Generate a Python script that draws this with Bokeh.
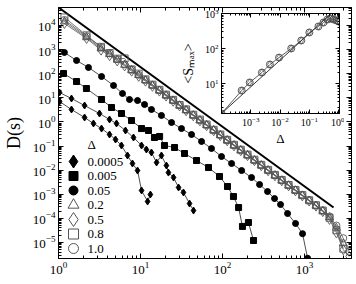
from bokeh.plotting import figure
from bokeh.layouts import column
from bokeh.models import Range1d, LinearScale, FixedTicker, LogAxis, CustomJSTickFormatter
from bokeh.embed import file_html
from bokeh.resources import INLINE
from bokeh.core.properties import value

SERIF = "Liberation Serif"

# ---- main panel: avalanche size distribution D(s) ----
# open-symbol runs share the same logarithmic bins
s_open = [1.18, 2.2, 3.3, 4.2, 5.2, 6.4, 7.8, 9.5, 11.5, 14, 17, 20.5, 25, 30, 36,
          44, 53, 64, 78, 94, 114, 138, 167, 202, 245, 297, 360, 436, 528, 640,
          775, 940, 1140, 1380, 1670, 2020, 2450, 2970, 3500]

d_100 = [17000, 3600, 1250, 700, 400, 245, 150, 90, 56, 34, 21, 13.2, 8.0, 5.1, 3.2,
         1.95, 1.2, 0.76, 0.46, 0.29, 0.178, 0.11, 0.069, 0.043, 0.026, 0.0162, 0.0100,
         0.0062, 0.0038, 0.0024, 0.00148, 0.00091, 0.00056, 0.00034, 0.00021, 0.00012,
         5.0e-5, 1.5e-5, 4.2e-6]
d_080 = [21500, 3900, 1300, 720, 420, 430, 150, 100, 58, 35, 21.5, 13.5, 8.2, 5.0, 3.3,
         1.98, 1.25, 0.78, 0.47, 0.30, 0.18, 0.112, 0.070, 0.044, 0.027, 0.0165, 0.0102,
         0.0063, 0.0039, 0.0024, 0.0015, 0.00092, 0.00056, 0.00035, 0.00021, 0.000105,
         3.2e-5, 5.5e-6]
d_050 = [12100, 2900, 950, 560, 340, 210, 128, 78, 49, 30, 19, 11.8, 7.2, 4.6, 2.9,
         1.78, 1.1, 0.70, 0.43, 0.27, 0.165, 0.102, 0.064, 0.040, 0.0245, 0.0152, 0.0094,
         0.0058, 0.0036, 0.00223, 0.00138, 0.00085, 0.00052, 0.00032, 0.00019, 9e-5,
         2.5e-5, 5e-6, 2.6e-6]
d_020 = [14500, 3200, 1100, 640, 380, 230, 140, 86, 53, 32.5, 20, 12.6, 7.7, 4.8, 3.05,
         1.87, 1.16, 0.73, 0.45, 0.28, 0.172, 0.106, 0.066, 0.041, 0.0253, 0.0157, 0.0097,
         0.006, 0.0037, 0.0023, 0.00143, 0.00088, 0.00054, 0.00033, 0.0002, 0.00011,
         4e-5, 9e-6]

s_005b = [1.18, 1.66, 2.32, 3.35, 4.69, 6.03, 7.34, 9.2, 11.2, 13.6, 18.0, 23.9, 31.6,
          41.9, 55.5, 73.4, 97.2, 129, 171, 226, 283, 354, 431, 510, 621, 777, 946, 1090]
d_005b = [760, 353, 181, 76.5, 32.4, 15.1, 8.5, 7.7, 5.27, 3.27, 1.85, 0.944, 0.53, 0.30,
          0.154, 0.0787, 0.0366, 0.0188, 0.0096, 0.00493, 0.00252, 0.00129, 0.00066,
          0.000374, 0.000158, 6.1e-5, 2.3e-5, 2.2e-6]

s_0005 = [1.15, 1.66, 2.19, 3.35, 4.43, 5.86, 7.77, 10.3, 12.5, 14.8, 17.1, 19.6, 26,
          34.4, 48.2, 67.5, 91.9, 115, 136, 157, 175, 207, 239]
d_0005 = [102, 47.4, 24.3, 8.5, 3.96, 2.23, 1.14, 0.53, 0.44, 0.225, 0.248, 0.105, 0.0867,
          0.0489, 0.025, 0.0128, 0.00542, 0.00209, 0.0008, 0.00028, 4.6e-5, 6.7e-5, 1.2e-5]

s_00005 = [1.03, 1.44, 2.08, 3.16, 4.19, 5.1, 6.56, 8.22, 10.3, 11.8, 13.6, 15.7, 18,
           20.7, 21.9, 25.3, 29.1, 33.4, 39.6, 44.3]
d_00005 = [16.6, 9.35, 4.79, 2.23, 1.26, 0.86, 0.44, 0.225, 0.105, 0.0716, 0.0537, 0.0207,
           0.0404, 0.0155, 0.0079, 0.00493, 0.0019, 0.00118, 0.00041, 0.00021]

s_00001 = [1.03, 1.44, 2.08, 2.67, 3.35, 4.19, 4.96, 5.86, 6.94, 7.98, 9.2, 10.3, 12.2, 13.2]
d_00001 = [7.0, 3.27, 1.52, 0.86, 0.53, 0.30, 0.186, 0.105, 0.0404, 0.0188, 0.0096,
           0.00143, 0.0005, 0.00097]

# reference power law
s_ref = [1.0, 2260]
d_ref = [56000, 2.8e-4]

delta_labels = ["0.0005", "0.005", "0.05", "0.2", "0.5", "0.8", "1.0"]

# ---- inset: mean largest avalanche vs. Delta ----
inset_delta = [1e-4, 4.9e-4, 9.2e-4, 2.4e-3, 4.5e-3, 9.2e-3, 0.024, 0.053, 0.1, 0.204,
               0.304, 0.417, 0.53, 0.67, 0.85, 1.0]
inset_smax = [1.39, 6.3, 10.7, 20.6, 34.9, 55, 100, 169, 287, 425, 553, 674, 720, 674,
              631, 590]
fit_delta = [1e-4, 0.85]
fit_smax = [1.39, 1380]


def decade_ticks(lo, hi):
    major = [10.0 ** k for k in range(lo, hi + 1)]
    minor = [m * 10.0 ** k for k in range(lo - 1, hi + 1) for m in range(2, 10)]
    return FixedTicker(ticks=major, minor_ticks=minor)


def style_axis(ax, font_size, labels=True, tick_in=5, minor_in=3):
    ax.major_tick_in = tick_in
    ax.major_tick_out = 0
    ax.minor_tick_in = minor_in
    ax.minor_tick_out = 0
    ax.axis_line_color = "black"
    ax.major_tick_line_color = "black"
    ax.minor_tick_line_color = "black"
    ax.major_label_text_font = SERIF
    ax.major_label_text_color = "black"
    ax.major_label_text_font_size = font_size
    ax.major_label_standoff = 3
    ax.axis_label_text_font = SERIF
    ax.axis_label_text_font_style = "normal"
    ax.axis_label_text_color = "black"
    if not labels:
        ax.formatter = CustomJSTickFormatter(code="return ''")
        ax.major_label_standoff = 0


# both panels share the same left/right border widths (the column lines their frames up)
BORDER_L, BORDER_R = 57, 6

p = figure(x_axis_type="log", y_axis_type="log",
           x_range=Range1d(1.0, 3740), y_range=Range1d(2.15e-6, 5.58e4),
           frame_width=293, frame_height=251,
           min_border_left=BORDER_L, min_border_right=BORDER_R,
           min_border_top=7, min_border_bottom=26,
           output_backend="svg", toolbar_location=None)
p.xgrid.visible = False
p.ygrid.visible = False
p.outline_line_color = "black"
p.background_fill_color = "white"
p.border_fill_color = "white"

p.xaxis.ticker = decade_ticks(0, 3)
p.yaxis.ticker = decade_ticks(-5, 4)
for ax in p.xaxis + p.yaxis:
    style_axis(ax, "13px")
p.yaxis.axis_label = "D(s)"
p.yaxis.axis_label_text_font_size = "18px"
p.yaxis.axis_label_standoff = 6

top_ax = LogAxis(ticker=decade_ticks(0, 3))
right_ax = LogAxis(ticker=decade_ticks(-5, 4))
style_axis(top_ax, "13px", labels=False)
style_axis(right_ax, "13px", labels=False)
p.add_layout(top_ax, "above")
p.add_layout(right_ax, "right")

# pixel-based ranges for the key
p.extra_x_ranges = {"px": Range1d(0, 293)}
p.extra_y_ranges = {"px": Range1d(0, 251)}
p.extra_x_scales = {"px": LinearScale()}
p.extra_y_scales = {"px": LinearScale()}

# reference slope
p.line(s_ref, d_ref, line_color="black", line_width=2)

gray = "#555555"
open_runs = [
    (d_020, "triangle", 8),
    (d_050, "diamond", 10),
    (d_080, "square", 7),
    (d_100, "circle", 7),
]
for d, marker, size in open_runs:
    s = s_open[:len(d)]
    p.line(s, d, line_color=gray, line_width=0.8)
    p.scatter(s, d, marker=marker, size=size, line_color=gray, fill_color=None,
              line_width=0.9)

filled_runs = [
    (s_005b, d_005b, "circle", 6),
    (s_0005, d_0005, "square", 6),
    (s_00005, d_00005, "diamond", 7),
    (s_00001, d_00001, "diamond", 7),
]
for s, d, marker, size in filled_runs:
    p.line(s, d, line_color="#222222", line_width=0.8)
    p.scatter(s, d, marker=marker, size=size, color="black")

# key
key_markers = [("diamond", True, 13), ("square", True, 9), ("circle", True, 9),
               ("triangle", False, 11), ("diamond", False, 14), ("square", False, 10),
               ("circle", False, 10)]
row_top, row_step = 97, 14.5
for i, (marker, filled, size) in enumerate(key_markers):
    y = row_top - i * row_step
    if filled:
        p.scatter([15], [y], marker=marker, size=size, color="black",
                  x_range_name="px", y_range_name="px")
    else:
        p.scatter([15], [y], marker=marker, size=size, line_color=gray, fill_color=None,
                  line_width=1, x_range_name="px", y_range_name="px")
p.text(x=[29] * len(delta_labels), y=[row_top - i * row_step for i in range(len(delta_labels))],
       text=delta_labels, text_font=value(SERIF), text_font_size="13px",
       text_baseline="middle", text_color="black", x_range_name="px", y_range_name="px")
p.text(x=[29], y=[114], text=["\u0394"], text_font=value(SERIF), text_font_size="13px",
       text_baseline="middle", text_color="black", x_range_name="px", y_range_name="px")

# ---- inset ----
ins = figure(x_axis_type="log", y_axis_type="log",
             x_range=Range1d(1e-4, 1.07), y_range=Range1d(1.39, 1000),
             frame_width=118, frame_height=100,
             min_border_left=BORDER_L, min_border_right=BORDER_R,
             min_border_top=8, min_border_bottom=40,
             output_backend="svg", toolbar_location=None,
             margin=(-279, 0, 0, 163))
ins.xgrid.visible = False
ins.ygrid.visible = False
ins.outline_line_color = "black"
ins.background_fill_color = "white"
ins.border_fill_color = None
ins.xaxis.ticker = decade_ticks(-3, 0)
ins.yaxis.ticker = decade_ticks(1, 3)
for ax in ins.xaxis + ins.yaxis:
    style_axis(ax, "10px", tick_in=4, minor_in=2)
ins.xaxis.axis_label = "\u0394"
ins.xaxis.axis_label_text_font_size = "13px"
ins.xaxis.axis_label_standoff = 2
ins.yaxis.axis_label = "<S\u2098\u2090\u2093>"
ins.yaxis.axis_label_text_font_size = "14px"
ins.yaxis.axis_label_standoff = 6
for loc, tk in (("above", decade_ticks(-4, 0)), ("right", decade_ticks(0, 3))):
    ax = LogAxis(ticker=tk)
    style_axis(ax, "10px", labels=False, tick_in=4, minor_in=2)
    ins.add_layout(ax, loc)

ins.line(fit_delta, fit_smax, line_color="black", line_width=0.8)
ins.line(inset_delta, inset_smax, line_color="#333333", line_width=0.8)
ins.scatter(inset_delta, inset_smax, marker="circle", size=7, line_color="#444444",
            fill_color=None, line_width=0.9)
ins.scatter(inset_delta, inset_smax, marker="diamond", size=7, line_color="#444444",
            fill_color=None, line_width=0.7)

layout = column(p, ins)
open("out.html", "w").write(file_html(layout, INLINE))
